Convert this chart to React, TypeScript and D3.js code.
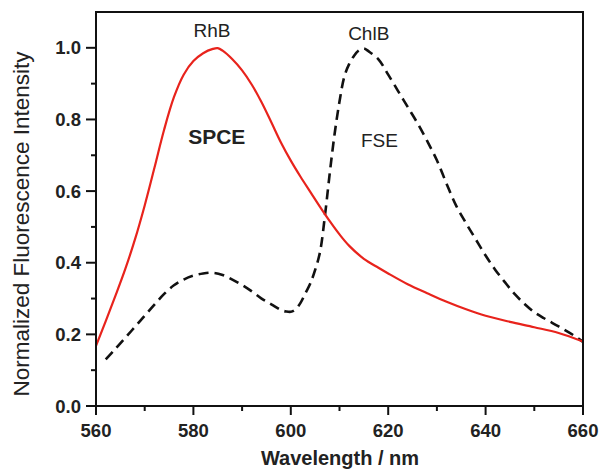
import React from "react";
import * as d3 from "d3";

const spceWl = [560,562,564,566,568,570,572,574,576,578,580,582,584,585,586,588,590,592,594,596,598,600,602,604,606,608,610,612,615,618,620,624,628,632,636,640,645,650,655,660];
const spceVal = [0.168,0.237,0.308,0.382,0.465,0.56,0.665,0.772,0.862,0.925,0.963,0.985,0.997,0.999,0.992,0.968,0.937,0.897,0.848,0.792,0.735,0.685,0.64,0.598,0.556,0.516,0.479,0.447,0.411,0.386,0.37,0.34,0.315,0.291,0.27,0.252,0.235,0.22,0.204,0.18];

const fseWl = [562,564,566,568,570,572,574,576,578,580,582,584,586,588,590,592,594,596,598,599,600,601,602,603,604,605,606,607,608,609,610,611,612,613,614,615,616,618,620,622,624,626,628,630,632,634,636,638,640,642,644,646,648,650,652,655,658,660];
const fseVal = [0.13,0.16,0.19,0.221,0.252,0.283,0.313,0.337,0.353,0.364,0.37,0.372,0.366,0.353,0.338,0.32,0.3,0.284,0.268,0.264,0.263,0.27,0.288,0.315,0.342,0.38,0.43,0.53,0.65,0.76,0.85,0.92,0.955,0.978,0.993,0.998,0.99,0.968,0.925,0.88,0.835,0.79,0.74,0.686,0.62,0.558,0.51,0.465,0.42,0.38,0.345,0.312,0.285,0.262,0.245,0.222,0.198,0.179];

const xTicks = [560,580,600,620,640,660];
const xMinor = [570,590,610,630,650];
const yTicks = [0,0.2,0.4,0.6,0.8,1.0];
const yMinor = [0.1,0.3,0.5,0.7,0.9];

const labels = [
  { text: "RhB", wl: 583.8, v: 1.045, bold: false },
  { text: "ChlB", wl: 616, v: 1.037, bold: false },
  { text: "SPCE", wl: 584.8, v: 0.748, bold: true },
  { text: "FSE", wl: 618.2, v: 0.736, bold: false },
];

export default function App() {
  const W = 603, H = 472;
  const L = 96, R = 583, T = 12, B = 406;
  const x = d3.scaleLinear().domain([560, 660]).range([L, R]);
  const y = d3.scaleLinear().domain([0, 1.1]).range([B, T]);
  const line = d3.line<[number, number]>().x(d => x(d[0])).y(d => y(d[1])).curve(d3.curveCatmullRom);
  const spce = line(spceWl.map((w, i) => [w, spceVal[i]]) as [number, number][]);
  const fse = line(fseWl.map((w, i) => [w, fseVal[i]]) as [number, number][]);
  const font = "'Liberation Sans', Arial, sans-serif";
  return (
    <svg width={W} height={H} style={{ position: "absolute", left: 0, top: 0 }} fontFamily={font}>
      <rect width={W} height={H} fill="#fff" />
      <path d={fse!} fill="none" stroke="#111" strokeWidth={2.6} strokeDasharray="10,6" />
      <path d={spce!} fill="none" stroke="#e8231c" strokeWidth={2.2} />
      <rect x={L} y={T} width={R - L} height={B - T} fill="none" stroke="#111" strokeWidth={2} />
      {xTicks.map(t => (
        <g key={"x" + t}>
          <line x1={x(t)} x2={x(t)} y1={B} y2={B + 9} stroke="#111" strokeWidth={2} />
          <text x={x(t)} y={437} textAnchor="middle" fontSize={18.5} fontWeight="bold" fill="#222">{t}</text>
        </g>
      ))}
      {xMinor.map(t => (
        <line key={"xm" + t} x1={x(t)} x2={x(t)} y1={B} y2={B + 5} stroke="#111" strokeWidth={2} />
      ))}
      {yTicks.map(t => (
        <g key={"y" + t}>
          <line x1={L - 10} x2={L} y1={y(t)} y2={y(t)} stroke="#111" strokeWidth={2} />
          <text x={81} y={y(t) + 6.5} textAnchor="end" fontSize={18.5} fontWeight="bold" fill="#222">{t.toFixed(1)}</text>
        </g>
      ))}
      {yMinor.map(t => (
        <line key={"ym" + t} x1={L - 5} x2={L} y1={y(t)} y2={y(t)} stroke="#111" strokeWidth={2} />
      ))}
      {labels.map(l => (
        <text key={l.text} x={x(l.wl)} y={y(l.v)} textAnchor="middle" fontSize={l.bold ? 21 : 19} fontWeight={l.bold ? "bold" : "normal"} fill="#222" dominantBaseline="middle">{l.text}</text>
      ))}
      <text x={340} y={465} textAnchor="middle" fontSize={20} fontWeight="bold" fill="#222">Wavelength / nm</text>
      <text transform={`translate(29,${224}) rotate(-90)`} textAnchor="middle" fontSize={22.5} fill="#222">Normalized Fluorescence Intensity</text>
    </svg>
  );
}
